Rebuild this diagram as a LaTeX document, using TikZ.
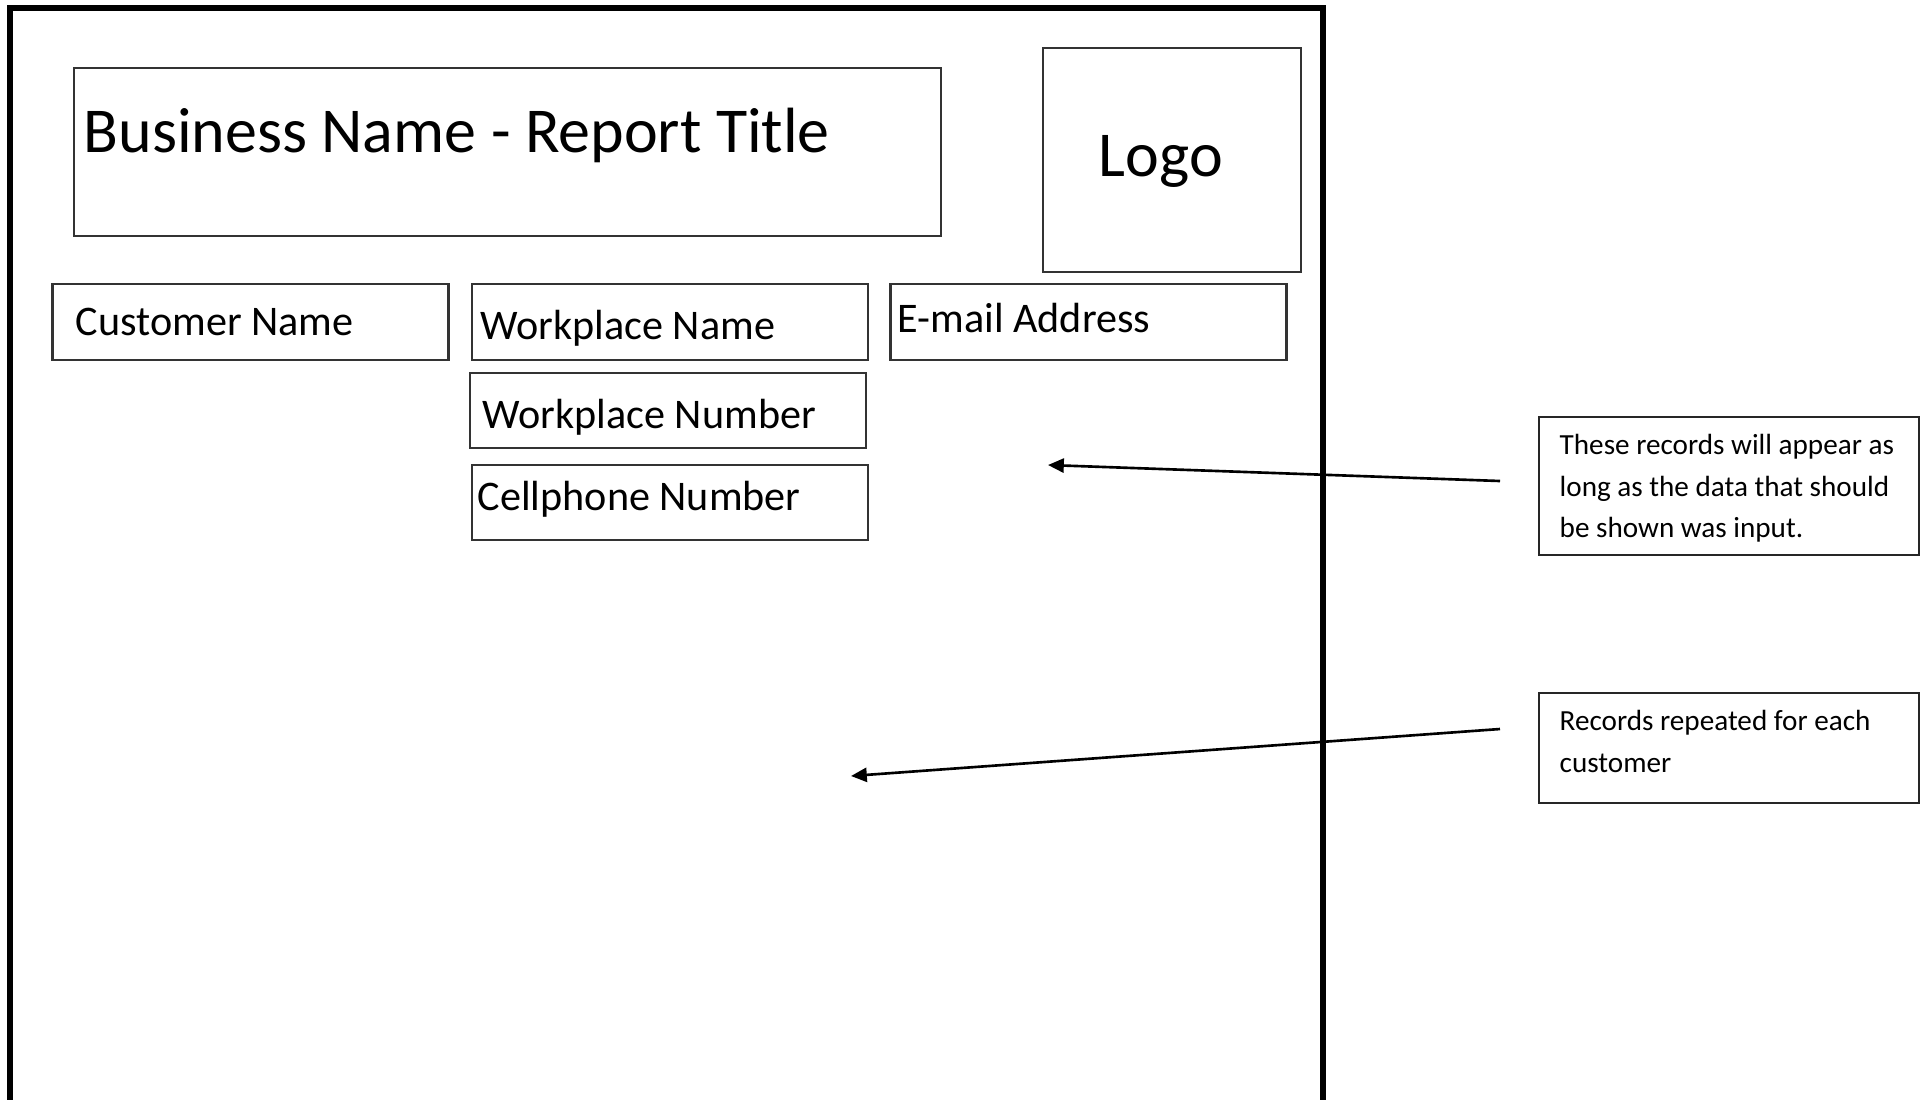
\documentclass[tikz,border=0pt]{standalone}
\usepackage{fontspec}
\setmainfont{Carlito}
\usetikzlibrary{arrows.meta}

\begin{document}
\begin{tikzpicture}[
    field/.style={draw=black!80, line width=0.6pt, minimum width=3.96cm, minimum height=0.76cm, inner sep=0pt},
    fieldtxt/.style={anchor=base west, inner sep=0pt, font=\fontsize{12}{14}\selectfont},
    bigtxt/.style={anchor=base west, inner sep=0pt, font=\fontsize{18.2}{22}\selectfont},
    notebox/.style={draw=black!85, line width=0.6pt, minimum width=3.80cm, inner sep=0pt},
    notetxt/.style={anchor=north west, inner sep=0pt, align=left, font=\fontsize{8.3}{11.8}\selectfont},
    pointer/.style={line width=0.75pt, -{Triangle[length=4.5pt,width=4pt]}}
  ]
  \useasboundingbox (0,0) rectangle (19.28,-10.99);

  % report page
  \draw[line width=1.56pt] (0.10,-11.2) -- (0.10,-0.08) -- (13.23,-0.08) -- (13.23,-11.2);

  % header
  \node[draw=black!80, line width=0.6pt, minimum width=8.67cm, minimum height=1.68cm] (title) at (5.075,-1.52) {};
  \node[bigtxt] (titletxt) at (0.83,-1.52) {Business Name - Report Title};
  \node[draw=black!80, line width=0.6pt, minimum width=2.58cm, minimum height=2.24cm] (logo) at (11.72,-1.60) {};
  \node[bigtxt] (logotxt) at (10.98,-1.76) {Logo};

  % record fields
  \node[field] (cust) at (2.505,-3.22) {};
  \node[field] (wpname) at (6.70,-3.22) {};
  \node[field] (email) at (10.885,-3.22) {};
  \node[field, minimum height=0.75cm] (wpnum) at (6.68,-4.105) {};
  \node[field, minimum height=0.75cm] (cell) at (6.70,-5.025) {};
  \node[fieldtxt] (custtxt) at (0.75,-3.35) {Customer Name};
  \node[fieldtxt] (wpnametxt) at (4.80,-3.39) {Workplace Name};
  \node[fieldtxt] (emailtxt) at (8.97,-3.32) {E-mail Address};
  \node[fieldtxt] (wpnumtxt) at (4.82,-4.28) {Workplace Number};
  \node[fieldtxt] (celltxt) at (4.77,-5.10) {Cellphone Number};

  % notes
  \node[notebox, minimum height=1.38cm] (note1) at (17.29,-4.86) {};
  \node[notetxt] (note1txt) at (15.59,-4.34) {These records will appear as\\long as the data that should\\be shown was input.};
  \node[notebox, minimum height=1.10cm] (note2) at (17.29,-7.48) {};
  \node[notetxt] (note2txt) at (15.59,-7.10) {Records repeated for each\\customer};

  \coordinate (from1) at (15.00,-4.81);
  \coordinate (to1) at (10.48,-4.65);
  \coordinate (from2) at (15.00,-7.29);
  \coordinate (to2) at (8.51,-7.76);
  \draw[pointer] (from1) -- (to1);
  \draw[pointer] (from2) -- (to2);
\end{tikzpicture}
\end{document}
